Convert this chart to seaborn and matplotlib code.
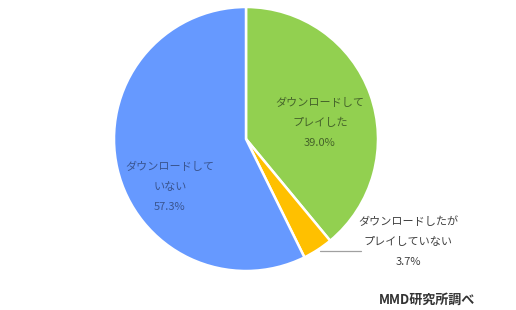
import matplotlib
matplotlib.use("Agg")
import matplotlib.pyplot as plt
import seaborn as sns

categories = ["ダウンロードして\nプレイした", "ダウンロードしたが\nプレイしていない", "ダウンロードして\nいない"]
values = [39.0, 3.7, 57.3]
pct_labels = ["39.0%", "3.7%", "57.3%"]
colors = ["#92D050", "#FFC000", "#6699FF"]
source = "MMD研究所調べ"

sns.set_theme(style="white")
plt.rcParams['font.family'] = ['Noto Sans CJK JP', 'DejaVu Sans']

W, H = 516, 310
fig = plt.figure(figsize=(W / 100, H / 100), dpi=100)
ax = fig.add_axes([0, 0, 1, 1])

cx, cy, r = 246, H - 139, 132
wedges, _ = ax.pie(values, colors=colors, startangle=90, counterclock=False,
                   center=(cx, cy), radius=r, frame=True,
                   wedgeprops=dict(edgecolor="white", linewidth=1.8))
ax.set_xlim(0, W)
ax.set_ylim(0, H)
ax.set_aspect("equal")
ax.axis("off")

fs = 8.0
ls = 2.25
# green label
ax.text(320, H - 123, categories[0] + "\n" + pct_labels[0], ha="center", va="center",
        fontsize=fs, color="#45632A", linespacing=ls)
# blue label
ax.text(170, H - 187, categories[2] + "\n" + pct_labels[2], ha="center", va="center",
        fontsize=fs, color="#3A5590", linespacing=ls)
# orange label outside with leader line
ax.plot([320, 361], [H - 251, H - 251], color="#A0A0A0", lw=0.9)
ax.text(408, H - 242, categories[1] + "\n" + pct_labels[1], ha="center", va="center",
        fontsize=fs, color="#404040", linespacing=ls)

ax.text(427, H - 300, source, ha="center", va="center", fontsize=9.4,
        color="#333333", fontweight="bold")

fig.savefig("out.png", dpi=100)
